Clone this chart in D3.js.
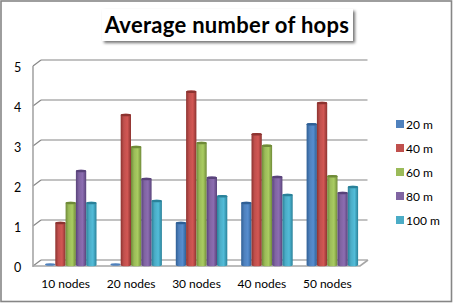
<!DOCTYPE html>
<html><head><meta charset="utf-8">
<script src="https://cdn.jsdelivr.net/npm/d3@7"></script>
<style>html,body{margin:0;padding:0;background:#fff}svg{display:block}text{font-family:Lato,"Open Sans",sans-serif;fill:#000}</style>
</head><body><div id="c"></div>
<script>
const categories=["10 nodes","20 nodes","30 nodes","40 nodes","50 nodes"];
const seriesNames=["20 m","40 m","60 m","80 m","100 m"];
const s20=[0.02,0.02,1,1.5,3.47];
const s40=[1,3.7,4.28,3.22,4];
const s60=[1.5,2.9,3,2.93,2.17];
const s80=[2.3,2.1,2.13,2.15,1.75];
const s100=[1.5,1.55,1.67,1.7,1.9];
const seriesValues=[s20,s40,s60,s80,s100];
const yTicks=[0,1,2,3,4,5];
const colors=["#4f81bd","#c0504d","#9bbb59","#8064a2","#4bacc6"];
const dark=["#2f5f95","#8c3330","#6f8a38","#59437a","#2a8199"];
const W=455,H=303;
const svg=d3.select("#c").append("svg").attr("width",W).attr("height",H);
const defs=svg.append("defs");
colors.forEach((c,i)=>{
  const g=defs.append("linearGradient").attr("id","g"+i);
  g.append("stop").attr("offset","0").attr("stop-color",dark[i]);
  g.append("stop").attr("offset",".3").attr("stop-color",c);
  g.append("stop").attr("offset",".65").attr("stop-color",d3.color(c).brighter(.25));
  g.append("stop").attr("offset","1").attr("stop-color",dark[i]);
});
const f=defs.append("filter").attr("id","sh").attr("x","-5%").attr("y","-20%").attr("width","112%").attr("height","160%");
f.append("feDropShadow").attr("dx",2).attr("dy",2).attr("stdDeviation",1.6).attr("flood-color","#000").attr("flood-opacity",.55);

svg.append("rect").attr("x",1).attr("y",1).attr("width",450.5).attr("height",300.5).attr("fill","#fff").attr("stroke","#868686").attr("stroke-width",1.6);

const dx=8,dy=6;
const x=d3.scaleBand().domain(categories).range([33,360]);
const inner=d3.scaleBand().domain(d3.range(5)).range([0,51.5]);
const y=d3.scaleLinear().domain([0,5]).range([266,66]);
const grey="#868686";
svg.append("g").selectAll("line").data(yTicks).join("line")
  .attr("x1",x.range()[0]+dx).attr("x2",x.range()[1]+dx-.5)
  .attr("y1",d=>y(d)-dy).attr("y2",d=>y(d)-dy).attr("stroke",grey).attr("stroke-width",1.2);
svg.append("g").selectAll("line").data(yTicks).join("line")
  .attr("x1",33).attr("x2",33+dx).attr("y1",d=>y(d)).attr("y2",d=>y(d)-dy).attr("stroke",grey).attr("stroke-width",1.2);
svg.append("path").attr("d",`M${33},${y(0)}L${360},${y(0)}L${368},${y(0)-dy}`).attr("fill","none").attr("stroke","#a6a6a6").attr("stroke-width",1.6);
svg.append("line").attr("x1",33).attr("x2",33).attr("y1",y(5)).attr("y2",y(0)+1).attr("stroke","#a6a6a6").attr("stroke-width",1.6);

const base=y(0)-1;
const bars=svg.append("g");
categories.forEach((cat,ci)=>{
  seriesValues.forEach((vals,si)=>{
    const v=vals[ci];
    const bw=inner.bandwidth();
    const x0=x(cat)+12+inner(si), rx=bw/2, ry=1.3;
    const top=y(v)-3;
    if(v<0.1){
      bars.append("ellipse").attr("cx",x0+rx).attr("cy",base-.5).attr("rx",rx).attr("ry",ry).attr("fill",colors[si]);
      return;
    }
    bars.append("path")
      .attr("d",`M${x0},${top}L${x0},${base}A${rx},${ry} 0 0 0 ${x0+bw},${base}L${x0+bw},${top}A${rx},${ry} 0 0 0 ${x0},${top}Z`)
      .attr("fill",`url(#g${si})`);
    bars.append("ellipse").attr("cx",x0+rx).attr("cy",top).attr("rx",rx).attr("ry",ry).attr("fill",dark[si]);
  });
});

svg.append("g").selectAll("text").data(yTicks).join("text")
  .attr("x",17.5).attr("y",d=>y(d)+1.5).attr("text-anchor","middle").attr("dominant-baseline","central")
  .style("font-size","12.5px").text(d=>d);
svg.append("g").selectAll("text").data(categories).join("text")
  .attr("x",d=>x(d)+x.bandwidth()/2).attr("y",287.5).attr("text-anchor","middle")
  .style("font-size","12px").text(d=>d);
const lg=svg.append("g").selectAll("g").data(seriesNames).join("g")
  .attr("transform",(d,i)=>`translate(396,${120+i*24})`);
lg.append("rect").attr("width",8).attr("height",8).attr("fill",(d,i)=>colors[i]);
lg.append("text").attr("x",10).attr("y",8.5).style("font-size","12px").text(d=>d);
svg.append("rect").attr("x",102).attr("y",9).attr("width",251).attr("height",32).attr("fill","#fff").attr("filter","url(#sh)");
svg.append("text").attr("x",227).attr("y",33).attr("text-anchor","middle")
  .style("font-size","22px").style("font-weight","700").style("letter-spacing",".3px").text("Average number of hops");
</script></body></html>
